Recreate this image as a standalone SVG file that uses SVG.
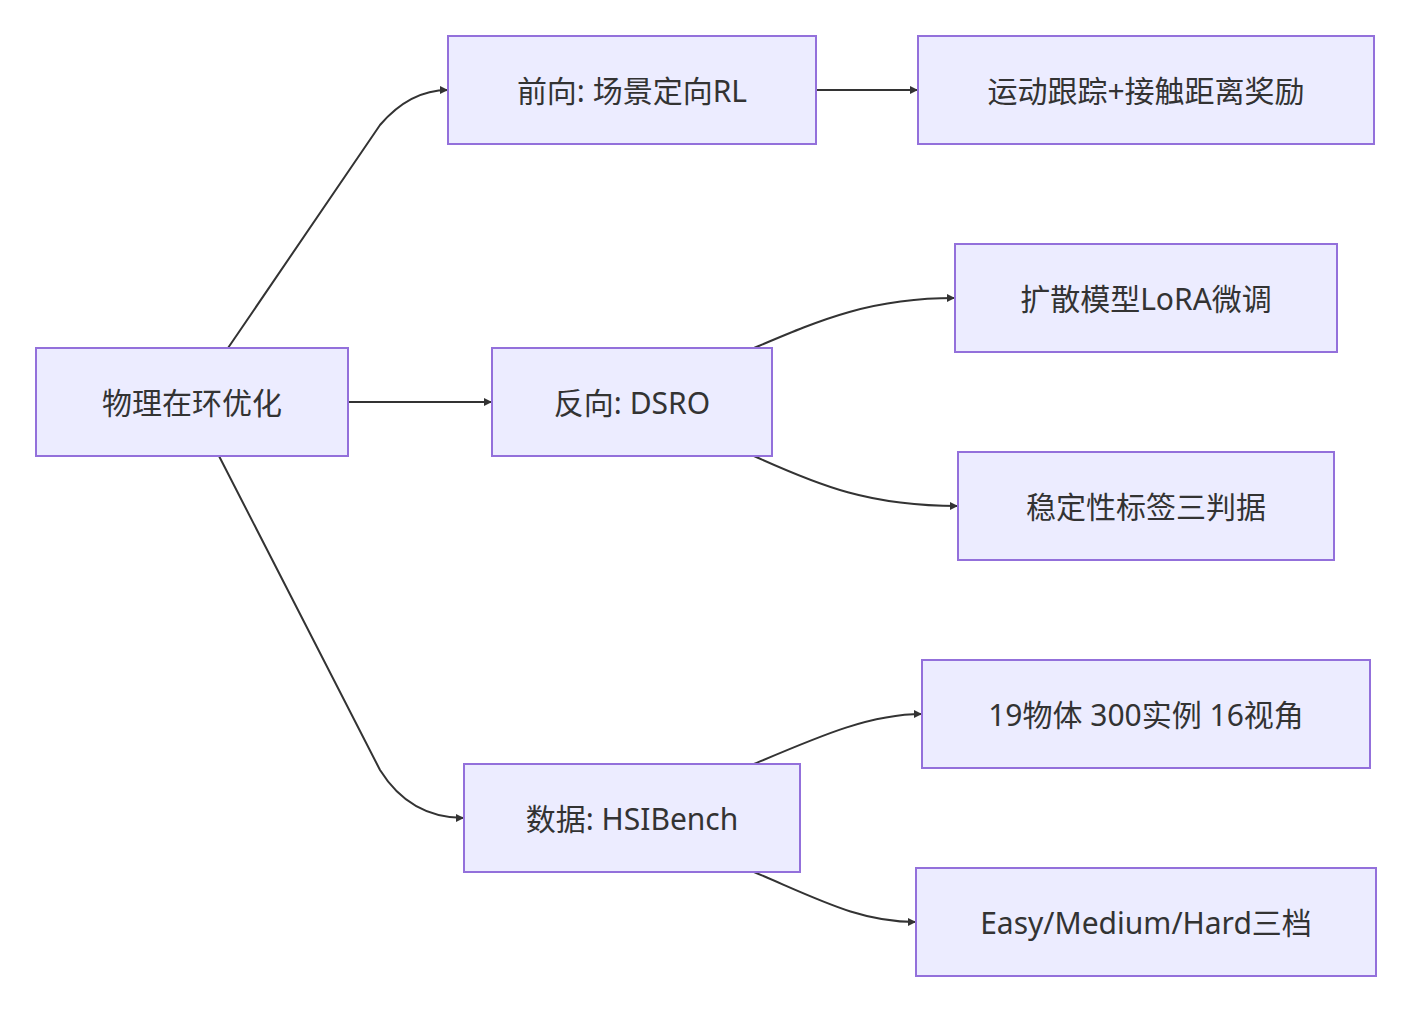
<svg xmlns="http://www.w3.org/2000/svg" width="1412" height="1012" viewBox="0 0 1412 1012">
<style>
.n rect{fill:#ECECFF;stroke:#9370DB;stroke-width:2}
.n text{font-family:"Noto Sans","Noto Sans CJK SC",sans-serif;font-size:30px;fill:#333;text-anchor:middle;dominant-baseline:central}
.e path{fill:none;stroke:#333;stroke-width:2;marker-end:url(#ar)}
</style>
<defs><marker id="ar" viewBox="0 0 10 10" refX="10" refY="5" markerWidth="8" markerHeight="8" markerUnits="userSpaceOnUse" orient="auto"><path d="M0,0L10,5L0,10z" fill="#333"/></marker></defs>
<rect width="1412" height="1012" fill="#fff"/>
<g class="e">
<path d="M228,348 L380,125 Q410,90 448,90"/>
<path d="M348,402 L492,402"/>
<path d="M219,456 L380,770 Q410,818 464,818"/>
<path d="M816,90 L918,90"/>
<path d="M754,348 C820,320 870,298 955,298"/>
<path d="M754,456 C820,486 870,506 958,506"/>
<path d="M754,764 C820,736 870,714 922,714"/>
<path d="M754,872 C820,900 860,922 916,922"/>
</g>
<g class="n" id="A"><rect x="36" y="348" width="312" height="108"/><text x="192" y="402">物理在环优化</text></g>
<g class="n" id="B"><rect x="448" y="36" width="368" height="108"/><text x="632" y="90">前向: 场景定向RL</text></g>
<g class="n" id="C"><rect x="492" y="348" width="280" height="108"/><text x="632" y="402">反向: DSRO</text></g>
<g class="n" id="D"><rect x="464" y="764" width="336" height="108"/><text x="632" y="818">数据: HSIBench</text></g>
<g class="n" id="E"><rect x="918" y="36" width="456" height="108"/><text x="1146" y="90">运动跟踪+接触距离奖励</text></g>
<g class="n" id="F"><rect x="955" y="244" width="382" height="108"/><text x="1146" y="298">扩散模型LoRA微调</text></g>
<g class="n" id="G"><rect x="958" y="452" width="376" height="108"/><text x="1146" y="506">稳定性标签三判据</text></g>
<g class="n" id="H"><rect x="922" y="660" width="448" height="108"/><text x="1146" y="714">19物体 300实例 16视角</text></g>
<g class="n" id="I"><rect x="916" y="868" width="460" height="108"/><text x="1146" y="922">Easy/Medium/Hard三档</text></g>
</svg>
